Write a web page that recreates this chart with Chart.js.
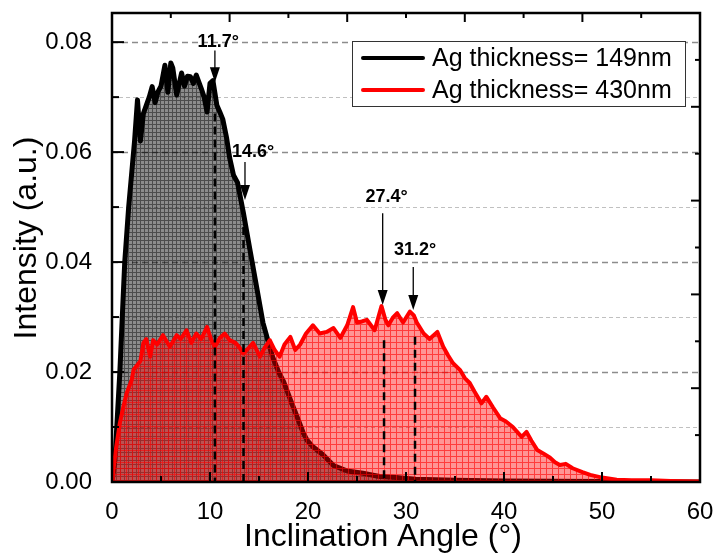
<!DOCTYPE html>
<html>
<head>
<meta charset="utf-8">
<script src="https://cdn.jsdelivr.net/npm/chart.js@4.4.1/dist/chart.umd.min.js"></script>
<style>
  html, body { margin: 0; padding: 0; background: #fff; }
</style>
</head>
<body>
<canvas id="chart" width="716" height="554"></canvas>
<script>
// Ag 149 nm film
const angles149 = [0, 0.3, 0.8, 1.3, 1.7, 2.0, 2.3, 2.6, 2.9, 3.2, 3.5, 3.8, 4.1, 4.4, 4.7, 5.0, 5.4, 5.7, 6.0, 6.2,
  6.6, 7.1, 7.4, 7.7, 8.0, 8.3, 8.6, 9.1, 9.4, 9.7, 10.0, 10.3, 10.7, 11.0, 11.3, 11.7, 12.0, 12.4, 12.8, 13.4,
  14.1, 14.8, 15.4, 15.9, 16.4, 17.0, 17.5, 18.2, 18.9, 19.5, 19.9, 20.5, 21.5, 22.6, 24.0, 25.6, 27.3, 29, 31, 35,
  40, 50, 60];
const intensity149 = [0, 0.004, 0.020, 0.040, 0.050, 0.056, 0.062, 0.0695, 0.062, 0.067, 0.0685, 0.070, 0.0719, 0.069, 0.071, 0.072, 0.0758, 0.0709, 0.0762, 0.0753,
  0.0704, 0.0744, 0.072, 0.0738, 0.0737, 0.0725, 0.074, 0.0716, 0.070, 0.0673, 0.0725, 0.073, 0.0685, 0.0673, 0.066, 0.0625, 0.059, 0.0558, 0.0545, 0.049,
  0.042, 0.035, 0.029, 0.0258, 0.0227, 0.020, 0.0183, 0.015, 0.0118, 0.009, 0.0076, 0.0064, 0.005, 0.003, 0.002, 0.0016, 0.001, 0.0008, 0.0005, 0.0003,
  0.0002, 0.0001, 0];

// Ag 430 nm film
const angles430 = [0, 0.4, 0.8, 1.2, 1.5, 2.0, 2.2, 2.9, 3.2, 3.5, 3.9, 4.2, 4.6, 5.2, 5.6, 5.9, 6.6, 7.0, 7.6, 8.1,
  8.6, 9.1, 9.7, 10.1, 10.5, 11.0, 11.5, 12.0, 12.6, 13.0, 13.4, 14.0, 14.4, 15.1, 15.6, 16.1, 16.6, 17.1, 17.6, 18.2,
  18.7, 19.2, 19.8, 20.5, 21.2, 21.9, 22.6, 23.3, 24.0, 24.6, 25.0, 25.5, 26.0, 26.8, 27.5, 27.9, 28.2, 28.7, 29.1, 29.7,
  30.4, 30.8, 31.1, 31.8, 32.4, 33.2, 33.8, 34.3, 34.8, 35.5, 36.0, 36.5, 37.0, 37.7, 38.2, 38.9, 39.6, 40.2, 40.9, 41.8,
  42.3, 42.8, 43.4, 44.0, 44.7, 45.2, 45.7, 46.3, 47.0, 48.0, 48.8, 50, 51.5, 53, 55, 57, 60];
const intensity430 = [0, 0.006, 0.0107, 0.014, 0.0162, 0.0185, 0.0204, 0.022, 0.0253, 0.026, 0.0228, 0.0258, 0.025, 0.0267, 0.0255, 0.0246, 0.0267, 0.026, 0.0276, 0.0253,
  0.027, 0.026, 0.0282, 0.026, 0.0246, 0.0262, 0.027, 0.0258, 0.0253, 0.0245, 0.0234, 0.0245, 0.0253, 0.0228, 0.0245, 0.0258, 0.024, 0.0228, 0.025, 0.0264,
  0.024, 0.025, 0.027, 0.0285, 0.027, 0.0273, 0.028, 0.0262, 0.0285, 0.0318, 0.029, 0.0292, 0.0295, 0.0276, 0.032, 0.0295, 0.0285, 0.030, 0.0307, 0.029,
  0.031, 0.0303, 0.029, 0.027, 0.026, 0.0273, 0.0246, 0.023, 0.0216, 0.0204, 0.0189, 0.018, 0.0164, 0.0143, 0.0155, 0.0135, 0.0116, 0.011, 0.010, 0.0082,
  0.0091, 0.0075, 0.0058, 0.0052, 0.0044, 0.0036, 0.0031, 0.0033, 0.0025, 0.0018, 0.0013, 0.0008, 0.0004, 0.0003, 0.0003, 0.0002, 0.0001];

const seriesLabels = ["Ag thickness= 149nm", "Ag thickness= 430nm"];
const xTickLabels = ["0", "10", "20", "30", "40", "50", "60"];
const yTickLabels = ["0.00", "0.02", "0.04", "0.06", "0.08"];

// peak markers: dashed drop line, arrow and label (data coordinates)
const markers = [
  { text: "11.7°", lineX: 10.5, lineTop: 0.067, arrowX: 10.5, arrowFrom: 0.0785, arrowTo: 0.0727, textX: 10.84, textY: 0.0800 },
  { text: "14.6°", lineX: 13.42, lineTop: 0.0464, arrowX: 13.57, arrowFrom: 0.0582, arrowTo: 0.0513, textX: 14.39, textY: 0.0600 },
  { text: "27.4°", lineX: 27.76, lineTop: 0.0258, arrowX: 27.62, arrowFrom: 0.0489, arrowTo: 0.0322, textX: 28.03, textY: 0.0519 },
  { text: "31.2°", lineX: 30.92, lineTop: 0.0264, arrowX: 30.74, arrowFrom: 0.0391, arrowTo: 0.0313, textX: 30.92, textY: 0.0422 }
];

const FONT = "'Liberation Sans', Arial, sans-serif";

function meshPattern(size, base, line) {
  const c = document.createElement("canvas");
  c.width = size; c.height = size;
  const g = c.getContext("2d");
  g.fillStyle = base;
  g.fillRect(0, 0, size, size);
  g.fillStyle = line;
  g.fillRect(0, 0, size, 1);
  g.fillRect(0, 1, 1, size - 1);
  return g.createPattern(c, "repeat");
}

const grayMesh = meshPattern(4, "rgba(0,0,0,0.45)", "rgba(0,0,0,0.45)");
const redMesh = meshPattern(6, "rgba(255,0,0,0.42)", "rgba(255,0,0,0.6)");

const toPoints = (xs, ys) => xs.map((x, i) => ({ x: x, y: ys[i] }));

const decor = {
  id: "decor",
  beforeDatasetsDraw(chart) {
    const { ctx, chartArea: a, scales: { y } } = chart;
    ctx.save();
    y.ticks.forEach((t) => {
      const k = t.value * 100;
      if (Math.abs(k - Math.round(k)) > 1e-6 || t.value <= 0) return;
      const major = Math.round(k) % 2 === 0;
      const py = Math.round(y.getPixelForValue(t.value)) + 0.5;
      ctx.beginPath();
      ctx.strokeStyle = major ? "#8c8c8c" : "#c0c0c0";
      ctx.lineWidth = major ? 1.3 : 1;
      ctx.setLineDash(major ? [6, 4] : [4, 3]);
      ctx.moveTo(a.left, py);
      ctx.lineTo(a.right, py);
      ctx.stroke();
    });
    ctx.restore();
  },
  afterDatasetsDraw(chart) {
    const { ctx, chartArea: a, scales: { x, y } } = chart;
    ctx.save();
    // peak markers
    markers.forEach((m) => {
      const lx = x.getPixelForValue(m.lineX);
      ctx.beginPath();
      ctx.strokeStyle = "#000";
      ctx.lineWidth = 2.5;
      ctx.setLineDash([8, 5]);
      ctx.moveTo(lx, y.getPixelForValue(m.lineTop));
      ctx.lineTo(lx, a.bottom);
      ctx.stroke();
      ctx.setLineDash([]);
      const ax = x.getPixelForValue(m.arrowX);
      const y0 = y.getPixelForValue(m.arrowFrom);
      const y1 = y.getPixelForValue(m.arrowTo);
      ctx.lineWidth = 1.3;
      ctx.beginPath();
      ctx.moveTo(ax, y0);
      ctx.lineTo(ax, y1 - 10);
      ctx.stroke();
      ctx.beginPath();
      ctx.fillStyle = "#000";
      ctx.moveTo(ax, y1);
      ctx.lineTo(ax - 5, y1 - 15);
      ctx.lineTo(ax + 5, y1 - 15);
      ctx.closePath();
      ctx.fill();
      ctx.font = "bold 18px " + FONT;
      ctx.textAlign = "center";
      ctx.textBaseline = "middle";
      ctx.fillText(m.text, x.getPixelForValue(m.textX), y.getPixelForValue(m.textY));
    });

    // tick marks on all four sides
    ctx.strokeStyle = "#000";
    ctx.lineWidth = 2;
    const tick = (x1, y1, x2, y2) => { ctx.beginPath(); ctx.moveTo(x1, y1); ctx.lineTo(x2, y2); ctx.stroke(); };
    for (let v = 0; v <= 60; v += 5) {
      const px = x.getPixelForValue(v);
      tick(px, a.bottom, px, a.bottom - (v % 10 === 0 ? 10 : 6));
    }
    y.ticks.forEach((t) => {
      const k = t.value * 100;
      if (Math.abs(k - Math.round(k)) > 1e-6) return;
      const py = y.getPixelForValue(t.value);
      tick(a.left, py, a.left + (Math.round(k) % 2 === 0 ? 12 : 7), py);
    });
    for (let i = 0; i <= 10; i++) {
      const px = a.left + (a.right - a.left) * i / 10;
      tick(px, a.top, px, a.top + (i % 2 === 0 ? 9 : 5));
      const py = a.bottom - (a.bottom - a.top) * i / 10;
      tick(a.right, py, a.right - (i % 2 === 0 ? 9 : 5), py);
    }
    // frame
    ctx.lineWidth = 2.5;
    ctx.strokeRect(a.left, a.top, a.right - a.left, a.bottom - a.top);

    // axis titles
    ctx.fillStyle = "#000";
    ctx.font = "32px " + FONT;
    ctx.textAlign = "center";
    ctx.textBaseline = "middle";
    ctx.fillText("Inclination Angle (°)", 383, 537);
    ctx.save();
    ctx.translate(27, 238);
    ctx.rotate(-Math.PI / 2);
    ctx.fillText("Intensity (a.u.)", 0, 0);
    ctx.restore();

    // legend
    const lx = a.right - 348, ly = a.top + 28, lw = 333, lh = 65;
    ctx.fillStyle = "#fff";
    ctx.fillRect(lx, ly, lw, lh);
    ctx.lineWidth = 1;
    ctx.strokeStyle = "#333";
    ctx.strokeRect(lx + 0.5, ly + 0.5, lw, lh);
    ctx.font = "25px " + FONT;
    ctx.textAlign = "left";
    const legendItems = [chart.data.datasets[0], chart.data.datasets[1]];
    legendItems.forEach((ds, i) => {
      const yy = ly + 17 + i * 32;
      ctx.beginPath();
      ctx.strokeStyle = ds.borderColor;
      ctx.lineWidth = 4;
      ctx.lineCap = "round";
      ctx.moveTo(lx + 11, yy);
      ctx.lineTo(lx + 71, yy);
      ctx.stroke();
      ctx.fillStyle = "#000";
      ctx.fillText(ds.label, lx + 80, yy + 1);
    });
    ctx.restore();
  }
};

new Chart(document.getElementById("chart"), {
  type: "line",
  data: {
    datasets: [
      {
        label: seriesLabels[0],
        data: toPoints(angles149, intensity149),
        borderColor: "#000",
        backgroundColor: grayMesh,
        borderWidth: 5,
        borderJoinStyle: "round",
        borderCapStyle: "round",
        fill: "origin",
        pointRadius: 0,
        tension: 0,
        order: 2
      },
      {
        label: seriesLabels[1],
        data: toPoints(angles430, intensity430),
        borderColor: "#ff0000",
        backgroundColor: redMesh,
        borderWidth: 4,
        borderJoinStyle: "round",
        borderCapStyle: "round",
        fill: "origin",
        pointRadius: 0,
        tension: 0,
        order: 1
      }
    ]
  },
  options: {
    responsive: false,
    animation: false,
    layout: { padding: { left: 0, right: 16, top: 13, bottom: 0 } },
    plugins: { legend: { display: false }, tooltip: { enabled: false } },
    scales: {
      x: {
        type: "linear",
        min: 0,
        max: 60,
        grid: { display: false },
        border: { display: false },
        ticks: {
          stepSize: 10,
          padding: 8,
          color: "#000",
          font: { family: FONT, size: 24 },
          maxRotation: 0,
          callback: (v) => xTickLabels[Math.round(v / 10)]
        },
        afterFit: (s) => { s.height = 72; s.paddingLeft = 0; s.paddingRight = 0; }
      },
      y: {
        min: 0,
        max: 0.0853,
        grid: { display: false },
        border: { display: false },
        ticks: {
          stepSize: 0.01,
          padding: 12,
          color: "#000",
          font: { family: FONT, size: 24 },
          callback: (v) => {
            const k = v * 100;
            if (Math.abs(k - Math.round(k)) > 1e-6 || Math.round(k) % 2 !== 0) return "";
            return yTickLabels[Math.round(k) / 2];
          }
        },
        afterFit: (s) => { s.width = 112; s.paddingTop = 0; s.paddingBottom = 0; }
      }
    }
  },
  plugins: [decor]
});
</script>
</body>
</html>
